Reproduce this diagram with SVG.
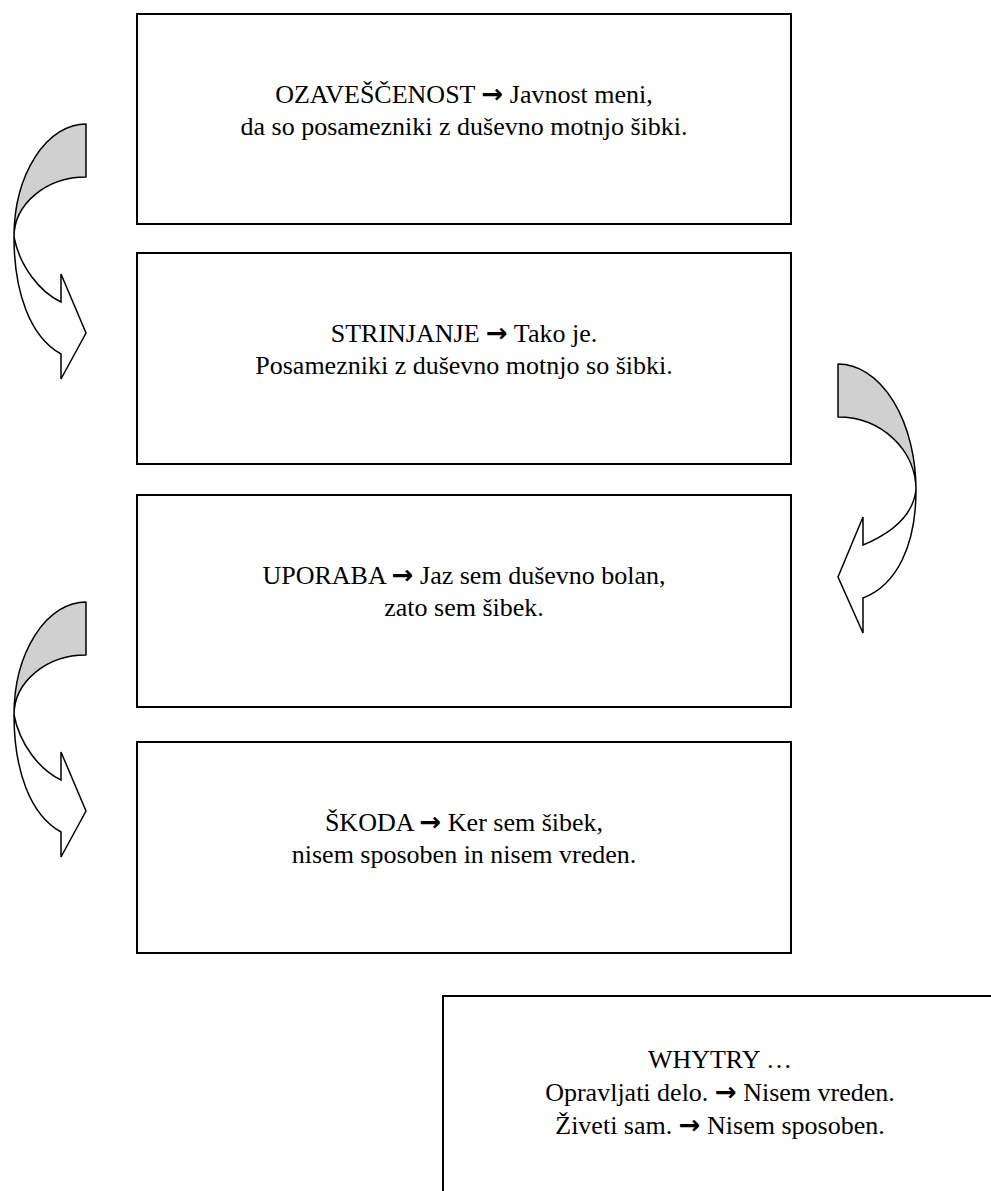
<svg xmlns="http://www.w3.org/2000/svg" width="991" height="1191" viewBox="0 0 991 1191">
<style>
.box{fill:#ffffff;stroke:#000000;stroke-width:2}
.t{font-family:"Liberation Serif","Times New Roman",serif;font-size:26px;fill:#000000;text-anchor:middle}
.arr{font-family:"DejaVu Sans",sans-serif;font-weight:bold;font-size:26px}
.band{fill:#d0d0d0;stroke:#000000;stroke-width:1.5;stroke-linejoin:round}
.front{fill:#ffffff;stroke:#000000;stroke-width:1.5;stroke-linejoin:miter}
</style>
<rect width="991" height="1191" fill="#ffffff"/>
<g id="connectors">
  <g id="arrow-left-1">
    <path class="band" d="M86,124 A72,113 0 0 0 14,237 A72,60 0 0 1 86,177 Z"/>
    <path class="front" d="M14,237 C14,292 30,337 61,354 L61,379 L86,333 L61,274 L61,302 C40,292 20,267 14,237 Z"/>
  </g>
  <g id="arrow-right">
    <path class="band" d="M838,364 A78,126 0 0 1 916,490 A78,73 0 0 0 838,417 Z"/>
    <path class="front" d="M916,490 C916,545 897,585 863,598 L863,633 L838,577 L863,517 L863,545 C892,533 913,515 916,490 Z"/>
  </g>
  <g id="arrow-left-2">
    <path class="band" d="M86,602 A72,113 0 0 0 14,715 A72,60 0 0 1 86,655 Z"/>
    <path class="front" d="M14,715 C14,770 30,815 61,832 L61,857 L86,811 L61,752 L61,780 C40,770 20,745 14,715 Z"/>
  </g>
</g>
<g id="node-ozavescenost">
  <rect class="box" x="137" y="14" width="654" height="210"/>
  <text class="t" x="464" y="103">OZAVEŠČENOST <tspan class="arr">→</tspan> Javnost meni,</text>
  <text class="t" x="464" y="135">da so posamezniki z duševno motnjo šibki.</text>
</g>
<g id="node-strinjanje">
  <rect class="box" x="137" y="253" width="654" height="211"/>
  <text class="t" x="464" y="342">STRINJANJE <tspan class="arr">→</tspan> Tako je.</text>
  <text class="t" x="464" y="374">Posamezniki z duševno motnjo so šibki.</text>
</g>
<g id="node-uporaba">
  <rect class="box" x="137" y="495" width="654" height="212"/>
  <text class="t" x="464" y="584">UPORABA <tspan class="arr">→</tspan> Jaz sem duševno bolan,</text>
  <text class="t" x="464" y="616">zato sem šibek.</text>
</g>
<g id="node-skoda">
  <rect class="box" x="137" y="742" width="654" height="211"/>
  <text class="t" x="464" y="831">ŠKODA <tspan class="arr">→</tspan> Ker sem šibek,</text>
  <text class="t" x="464" y="863">nisem sposoben in nisem vreden.</text>
</g>
<g id="node-whytry">
  <rect class="box" x="443" y="996" width="600" height="300"/>
  <text class="t" x="720" y="1068">WHYTRY …</text>
  <text class="t" x="720" y="1101">Opravljati delo. <tspan class="arr">→</tspan> Nisem vreden.</text>
  <text class="t" x="720" y="1134">Živeti sam. <tspan class="arr">→</tspan> Nisem sposoben.</text>
</g>
</svg>
